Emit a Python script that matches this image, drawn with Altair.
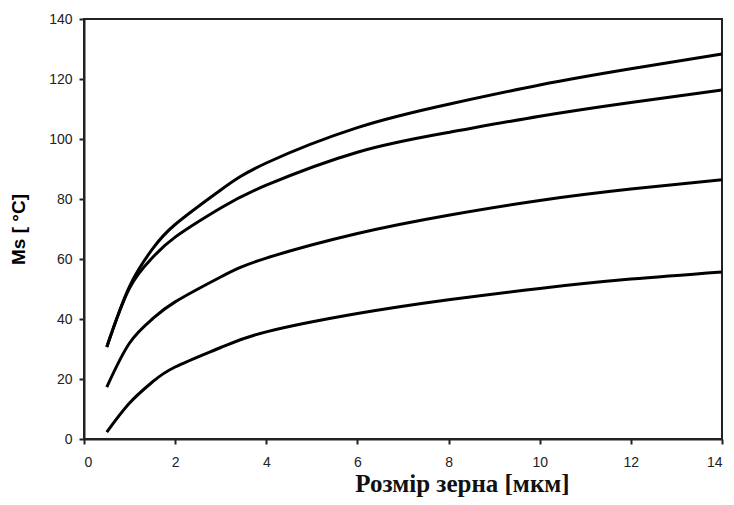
import altair as alt
import pandas as pd

x_vals = [0.5, 1, 1.5, 2, 3, 4, 6, 8, 10, 12, 14]
curve_1 = [30.7, 50.9, 63.3, 71.5, 83.0, 92.0, 103.8, 111.6, 118.0, 123.4, 128.3]
curve_2 = [30.7, 50.3, 60.4, 67.3, 77.0, 84.6, 95.6, 102.2, 107.6, 112.2, 116.3]
curve_3 = [17.3, 32.0, 40.0, 45.7, 54.0, 60.3, 68.5, 74.6, 79.5, 83.3, 86.4]
curve_4 = [2.3, 12.0, 19.0, 24.0, 30.5, 35.7, 41.8, 46.4, 50.2, 53.3, 55.7]
series_names = ["1", "2", "3", "4"]

rows = []
for name, vals in zip(series_names, [curve_1, curve_2, curve_3, curve_4]):
    for xv, yv in zip(x_vals, vals):
        rows.append({"x": xv, "y": yv, "s": name})
df = pd.DataFrame(rows)

chart = alt.Chart(df).mark_line(
    color="black", strokeWidth=3, interpolate="natural"
).encode(
    x=alt.X("x:Q", scale=alt.Scale(domain=[0, 14], nice=False),
            axis=alt.Axis(values=[0, 2, 4, 6, 8, 10, 12, 14], format="d",
                          title="Розмір зерна [мкм]",
                          titleFont="Liberation Serif", titleFontSize=25,
                          titleFontWeight="bold", titleColor="#111",
                          titleX=378, titleY=52, titleBaseline="alphabetic",
                          titleAlign="center",
                          labelPadding=11)),
    y=alt.Y("y:Q", scale=alt.Scale(domain=[0, 140], nice=False),
            axis=alt.Axis(values=[0, 20, 40, 60, 80, 100, 120, 140],
                          title="Ms [ °C]",
                          titleFont="Liberation Sans", titleFontSize=19,
                          titleFontWeight="bold", titleColor="black",
                          titlePadding=20, labelPadding=7)),
    detail="s:N",
).properties(
    width=638, height=420,
    autosize=alt.AutoSizeParams(type="none"),
    padding={"left": 76, "top": 11, "right": 4, "bottom": 58},
).configure_view(
    stroke="#222", strokeWidth=2
).configure_axis(
    grid=False, domainColor="#222", domainWidth=2, tickColor="#222",
    tickWidth=2, tickSize=5, labelFont="Liberation Sans", labelFontSize=14,
    labelColor="#222"
)

chart.save("out.html", embed_options={"renderer": "svg", "actions": False})
